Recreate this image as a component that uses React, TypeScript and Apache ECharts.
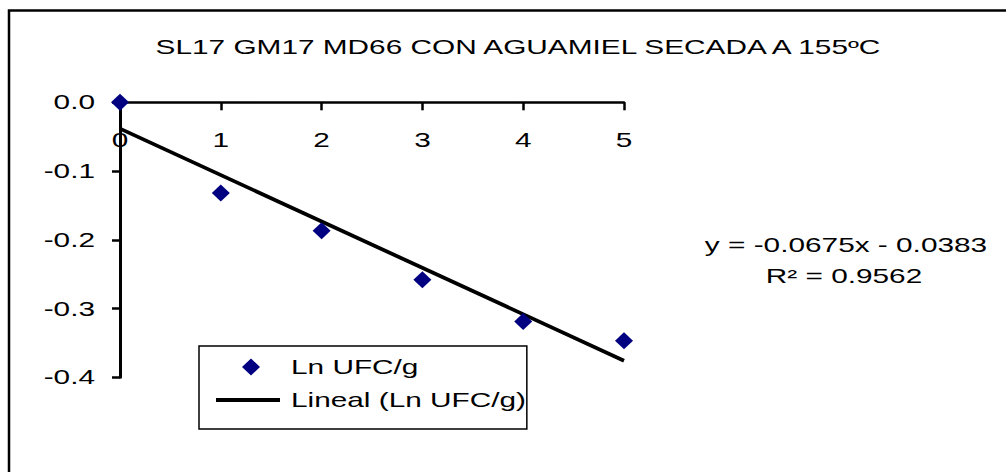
import React, { useEffect, useRef } from "react";
import * as echarts from "echarts";

const titleText = "SL17 GM17 MD66 CON AGUAMIEL SECADA A 155ºC";
const xValues = [0, 1, 2, 3, 4, 5];
const lnUfc = [0, -0.132, -0.187, -0.258, -0.319, -0.347];
const seriesName = "Ln UFC/g";
const trendName = "Lineal (Ln UFC/g)";
const trendSlope = -0.0675;
const trendIntercept = -0.0383;
const rSquared = 0.9562;
const yTicks = [0, -0.1, -0.2, -0.3, -0.4];

const FONT = "'Liberation Sans', Arial, sans-serif";
const STRETCH = 1.49;

// legend icons drawn inside a 64x17 box (tiny corner marks fix the box)
const CORNERS = "M0 0L0.01 0L0 0.01ZM64 17L63.99 17L64 16.99Z";
const diamondIcon = `path://${CORNERS}M35 0L44 8.5L35 17L26 8.5Z`;
const lineIcon = `path://${CORNERS}M0 6.5L64 6.5L64 10.5L0 10.5Z`;

export default function App() {
  const ref = useRef<HTMLDivElement>(null);
  useEffect(() => {
    if (!ref.current) return;
    const chart = echarts.init(ref.current, null, { renderer: "svg" });
    const xMin = xValues[0];
    const xMax = xValues[xValues.length - 1];
    const trendData = [
      [xMin, trendSlope * xMin + trendIntercept],
      [xMax, trendSlope * xMax + trendIntercept],
    ];
    chart.setOption({
      animation: false,
      backgroundColor: "#ffffff",
      textStyle: { fontFamily: FONT },
      grid: { left: 120, right: 382, top: 102.3, bottom: 94.7, containLabel: false },
      xAxis: {
        type: "value",
        position: "top",
        min: 0,
        max: 5,
        interval: 1,
        axisLine: { show: true, onZero: false, lineStyle: { color: "#000", width: 2.5 } },
        axisTick: { show: true, inside: true, length: 8, lineStyle: { color: "#000", width: 2.5 } },
        axisLabel: { color: "#000", fontSize: 20, fontFamily: FONT, margin: 28, inside: true },
        splitLine: { show: false },
      },
      yAxis: {
        type: "value",
        min: yTicks[yTicks.length - 1],
        max: yTicks[0],
        interval: 0.1,
        axisLine: { show: true, onZero: false, lineStyle: { color: "#000", width: 3 } },
        axisTick: { show: true, inside: false, length: 8, lineStyle: { color: "#000", width: 2.5 } },
        axisLabel: {
          color: "#000",
          fontSize: 20,
          fontFamily: FONT,
          margin: 25,
          formatter: (v: number) => (Math.abs(v) < 1e-9 ? "0.0" : v.toFixed(1)),
        },
        splitLine: { show: false },
      },
      legend: {
        orient: "vertical",
        left: 199,
        top: 346,
        borderColor: "#000",
        borderWidth: 1.5,
        padding: [11, 78, 19, 17],
        itemGap: 13,
        itemWidth: 64,
        itemHeight: 17,
        selectedMode: false,
        textStyle: { color: "#000", fontSize: 20, fontFamily: FONT, padding: [0, 0, 0, 6] },
        data: [
          { name: seriesName, icon: diamondIcon },
          { name: trendName, icon: lineIcon },
        ],
      },
      series: [
        {
          name: seriesName,
          type: "scatter",
          symbol: "diamond",
          symbolSize: [18, 17],
          itemStyle: { color: "#000080", opacity: 1 },
          silent: true,
          data: xValues.map((x, i) => [x, lnUfc[i]]),
          z: 3,
        },
        {
          name: trendName,
          type: "line",
          symbol: "none",
          showSymbol: false,
          silent: true,
          lineStyle: { color: "#000", width: 3.8 },
          itemStyle: { color: "#000" },
          data: trendData,
          z: 2,
        },
      ],
      graphic: [
        {
          type: "rect",
          shape: { x: 9, y: 10.5, width: 1200, height: 800 },
          style: { fill: "none", stroke: "#000", lineWidth: 2.5 },
          silent: true,
        },
        {
          type: "text",
          x: 518,
          y: 47,
          style: {
            text: titleText,
            font: `20px ${FONT}`,
            fill: "#000",
            align: "center",
            verticalAlign: "middle",
          },
        },
        {
          type: "text",
          x: 846,
          y: 245,
          style: {
            text: `y = ${trendSlope.toFixed(4)}x - ${Math.abs(trendIntercept).toFixed(4)}`,
            font: `20px ${FONT}`,
            fill: "#000",
            align: "center",
            verticalAlign: "middle",
          },
        },
        {
          type: "text",
          x: 844,
          y: 276,
          style: {
            text: `R² = ${rSquared.toFixed(4)}`,
            font: `20px ${FONT}`,
            fill: "#000",
            align: "center",
            verticalAlign: "middle",
          },
        },
      ],
    });

    // the reference texts are drawn horizontally stretched; widen each text about its anchor
    const stretch = () => {
      const root = ref.current;
      if (!root) return;
      root.querySelectorAll("text").forEach((t) => {
        const cur = t.getAttribute("transform") || "";
        if (t.getAttribute("data-sx") === cur && cur !== "") return;
        const x = parseFloat(t.getAttribute("x") || "0") || 0;
        const next = `${cur} translate(${x} 0) scale(${STRETCH} 1) translate(${-x} 0)`.trim();
        t.setAttribute("transform", next);
        t.setAttribute("data-sx", next);
      });
    };
    const zr: any = chart.getZr();
    if (zr && typeof zr.flush === "function") zr.flush();
    stretch();
    chart.on("finished", stretch);
    const raf = requestAnimationFrame(stretch);
    const t1 = setTimeout(stretch, 0);
    const t2 = setTimeout(stretch, 150);
    return () => {
      cancelAnimationFrame(raf);
      clearTimeout(t1);
      clearTimeout(t2);
      chart.dispose();
    };
  }, []);
  return (
    <div
      ref={ref}
      style={{ position: "fixed", left: 0, top: 0, width: 1006, height: 472, background: "#fff" }}
    />
  );
}
